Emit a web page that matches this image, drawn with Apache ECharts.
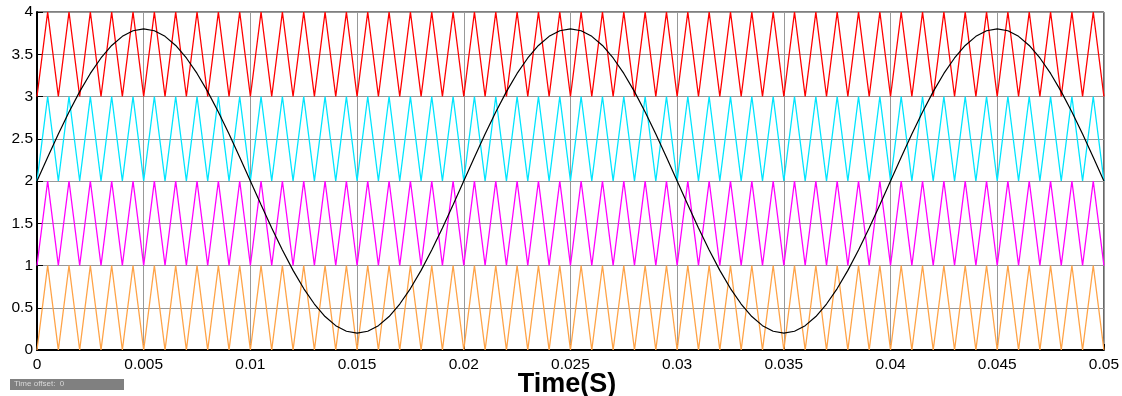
<!DOCTYPE html>
<html>
<head>
<meta charset="utf-8">
<script src="https://cdn.jsdelivr.net/npm/echarts@6/dist/echarts.min.js"></script>
<style>html,body{margin:0;padding:0;background:#fff}#c{width:1122px;height:396px}</style>
</head>
<body>
<div id="c"></div>
<script>
// sample spacing of the vertex lists below (seconds)
const sampleStep = 0.0005;
const xTicks = [0, 0.005, 0.01, 0.015, 0.02, 0.025, 0.03, 0.035, 0.04, 0.045, 0.05];
const yTicks = [0, 0.5, 1, 1.5, 2, 2.5, 3, 3.5, 4];

// triangular carriers: vertex values every 0.0005 s
const carrierOrange = [0,1,0,1,0,1,0,1,0,1,0,1,0,1,0,1,0,1,0,1,0,1,0,1,0,1,0,1,0,1,0,1,0,1,0,1,0,1,0,1,0,1,0,1,0,1,0,1,0,1,0,1,0,1,0,1,0,1,0,1,0,1,0,1,0,1,0,1,0,1,0,1,0,1,0,1,0,1,0,1,0,1,0,1,0,1,0,1,0,1,0,1,0,1,0,1,0,1,0,1,0];
const carrierMagenta = [1,2,1,2,1,2,1,2,1,2,1,2,1,2,1,2,1,2,1,2,1,2,1,2,1,2,1,2,1,2,1,2,1,2,1,2,1,2,1,2,1,2,1,2,1,2,1,2,1,2,1,2,1,2,1,2,1,2,1,2,1,2,1,2,1,2,1,2,1,2,1,2,1,2,1,2,1,2,1,2,1,2,1,2,1,2,1,2,1,2,1,2,1,2,1,2,1,2,1,2,1];
const carrierCyan = [2,3,2,3,2,3,2,3,2,3,2,3,2,3,2,3,2,3,2,3,2,3,2,3,2,3,2,3,2,3,2,3,2,3,2,3,2,3,2,3,2,3,2,3,2,3,2,3,2,3,2,3,2,3,2,3,2,3,2,3,2,3,2,3,2,3,2,3,2,3,2,3,2,3,2,3,2,3,2,3,2,3,2,3,2,3,2,3,2,3,2,3,2,3,2,3,2,3,2,3,2];
const carrierRed = [3,4,3,4,3,4,3,4,3,4,3,4,3,4,3,4,3,4,3,4,3,4,3,4,3,4,3,4,3,4,3,4,3,4,3,4,3,4,3,4,3,4,3,4,3,4,3,4,3,4,3,4,3,4,3,4,3,4,3,4,3,4,3,4,3,4,3,4,3,4,3,4,3,4,3,4,3,4,3,4,3,4,3,4,3,4,3,4,3,4,3,4,3,4,3,4,3,4,3,4,3];

// reference (modulating) wave, sampled every 0.0005 s
const reference = [
2.000,2.282,2.556,2.817,3.058,3.273,3.456,3.604,3.712,3.778,3.800,3.778,3.712,3.604,3.456,3.273,3.058,2.817,2.556,2.282,
2.000,1.718,1.444,1.183,0.942,0.727,0.544,0.396,0.288,0.222,0.200,0.222,0.288,0.396,0.544,0.727,0.942,1.183,1.444,1.718,
2.000,2.282,2.556,2.817,3.058,3.273,3.456,3.604,3.712,3.778,3.800,3.778,3.712,3.604,3.456,3.273,3.058,2.817,2.556,2.282,
2.000,1.718,1.444,1.183,0.942,0.727,0.544,0.396,0.288,0.222,0.200,0.222,0.288,0.396,0.544,0.727,0.942,1.183,1.444,1.718,
2.000,2.282,2.556,2.817,3.058,3.273,3.456,3.604,3.712,3.778,3.800,3.778,3.712,3.604,3.456,3.273,3.058,2.817,2.556,2.282,
2.000];

function pairs(arr){ return arr.map((v,i)=>[+(i*sampleStep).toFixed(5), v]); }
function mk(name, arr, color, z, w){
  return {name, type:'line', data:pairs(arr), showSymbol:false, symbol:'none', animation:false,
    lineStyle:{color, width:w}, z};
}

const chart = echarts.init(document.getElementById('c'), null, {renderer:'canvas'});
chart.setOption({
  animation:false,
  grid:{left:37, right:18, top:12, bottom:46, show:true, borderColor:'#000', borderWidth:1, backgroundColor:'#fff'},
  xAxis:{type:'value', min:xTicks[0], max:xTicks[xTicks.length-1], interval:0.005,
    axisLine:{show:true, onZero:false, lineStyle:{color:'#000', width:2}},
    axisTick:{show:true, inside:true, length:6, lineStyle:{color:'#000'}},
    axisLabel:{color:'#000', fontSize:15.5, fontFamily:'Liberation Sans, Arial', margin:7,
      formatter:v=>{const t=xTicks.find(x=>Math.abs(x-v)<1e-9); return t===undefined?'':String(t);}},
    splitLine:{show:true, lineStyle:{color:'#999999', width:1}}},
  yAxis:{type:'value', min:yTicks[0], max:yTicks[yTicks.length-1], interval:0.5,
    axisLine:{show:true, onZero:false, lineStyle:{color:'#000', width:2}},
    axisTick:{show:true, inside:true, length:6, lineStyle:{color:'#000'}},
    axisLabel:{color:'#000', fontSize:15.5, fontFamily:'Liberation Sans, Arial', margin:4,
      formatter:v=>{const t=yTicks.find(x=>Math.abs(x-v)<1e-9); return t===undefined?'':String(t);}},
    splitLine:{show:true, lineStyle:{color:'#999999', width:1}}},
  series:[
    mk('Carrier 1', carrierOrange, '#ffa347', 2, 1.3),
    mk('Carrier 2', carrierMagenta, '#ff00ff', 2, 1.3),
    mk('Carrier 3', carrierCyan, '#00e5ff', 2, 1.3),
    mk('Carrier 4', carrierRed, '#ff0000', 2, 1.3),
    mk('Reference', reference, '#000000', 3, 1.2)
  ],
  graphic:[
    {type:'text', x:567, y:371, style:{text:'Time(S)', font:'bold 27px "Liberation Sans", Arial', fill:'#000', textAlign:'center'}},
    {type:'rect', shape:{x:10, y:379, width:114, height:11}, style:{fill:'#808080'}},
    {type:'text', x:14, y:380, style:{text:'Time offset:  0', font:'8px "Liberation Sans", Arial', fill:'#d8d8d8'}}
  ]
});
</script>
</body>
</html>
